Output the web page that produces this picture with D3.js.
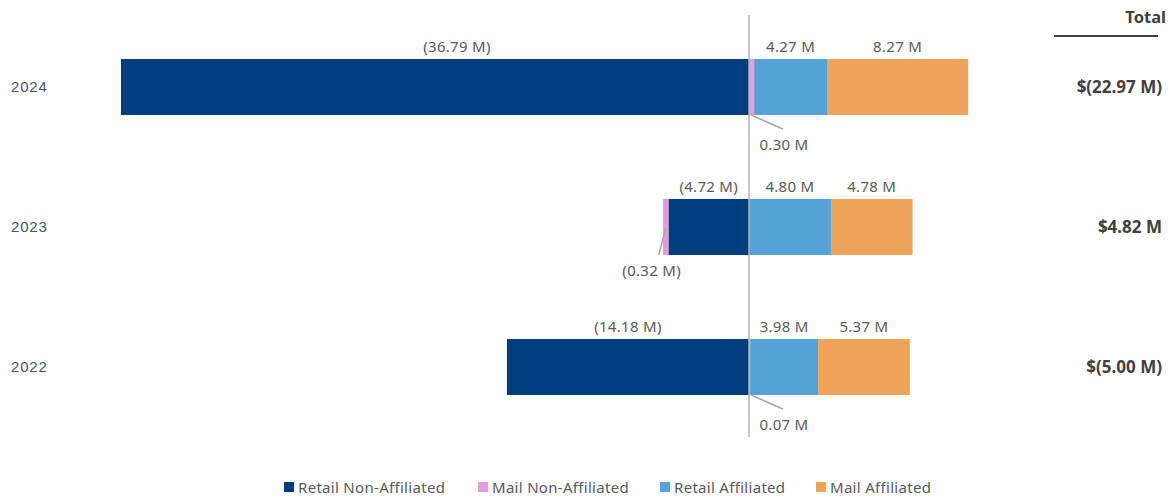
<!DOCTYPE html>
<html><head><meta charset="utf-8">
<script src="https://cdn.jsdelivr.net/npm/d3@7"></script>
<style>body{margin:0;background:#fff}svg{display:block}</style>
</head><body><svg id="c" width="1171" height="499"></svg>
<script>
const categories = ["2024","2023","2022"];
const seriesNames = ["Retail Non-Affiliated","Mail Non-Affiliated","Retail Affiliated","Mail Affiliated"];
const retailNonAffiliated = [-36.79, -4.72, -14.18];
const mailNonAffiliated = [0.30, -0.32, 0.07];
const retailAffiliated = [4.27, 4.80, 3.98];
const mailAffiliated = [8.27, 4.78, 5.37];
const totalLabels = ["$(22.97 M)", "$4.82 M", "$(5.00 M)"];
const colors = ["#003d7c","#e29ede","#56a2d7","#eba45a"];

const svg = d3.select("#c");
const x = d3.scaleLinear().domain([-40, 20]).range([749 - 40*17.07, 749 + 20*17.07]);
const y = d3.scaleBand().domain(categories).range([17, 437]).paddingInner(0.6).paddingOuter(0.3);
const seriesVals = [retailNonAffiliated, mailNonAffiliated, retailAffiliated, mailAffiliated];
const fmt = v => v < 0 ? "(" + Math.abs(v).toFixed(2) + " M)" : v.toFixed(2) + " M";
const labelFont = "'Noto Sans', 'Open Sans', sans-serif";

const segs = [];
categories.forEach((c, i) => {
  let pos = 0, neg = 0;
  seriesVals.forEach((arr, s) => {
    const v = arr[i];
    let x0, x1;
    if (v >= 0) { x0 = pos; x1 = pos + v; pos = x1; }
    else { x1 = neg; x0 = neg + v; neg = x0; }
    segs.push({c, i, s, v, x0, x1});
  });
});

svg.append("g").selectAll("rect").data(segs).join("rect")
  .attr("x", d => x(d.x0)).attr("width", d => x(d.x1) - x(d.x0))
  .attr("y", d => y(d.c)).attr("height", y.bandwidth())
  .attr("fill", d => colors[d.s]);

svg.append("line").attr("x1", x(0)).attr("x2", x(0)).attr("y1", 15).attr("y2", 437)
  .attr("stroke", "#b4b4b4").attr("stroke-width", 1.5);

const lab = svg.append("g").attr("font-family", labelFont).attr("font-size", 15)
  .attr("letter-spacing", 0.3).attr("fill", "#595959");
segs.forEach(d => {
  const w = x(d.x1) - x(d.x0);
  let cx = (x(d.x0) + x(d.x1)) / 2;
  if (w > 20) {
    if (w > 400) cx += 22; // long-bar label sits right of centre in the original
    lab.append("text").attr("x", cx).attr("y", y(d.c) - 7).attr("text-anchor", "middle").text(fmt(d.v));
  } else {
    const yb = y(d.c) + y.bandwidth();
    let lx0, ly0, lx1, ly1, tx, ty;
    if (d.v >= 0) {
      lx0 = x(d.x0) + 2; ly0 = yb; lx1 = x(d.x0) + 34; ly1 = yb + 14; tx = x(d.x0) + 35; ty = yb + 35;
    } else {
      lx0 = cx; ly0 = yb - 27; lx1 = cx - 7; ly1 = yb; tx = cx - 14; ty = yb + 21;
    }
    lab.append("line").attr("x1", lx0).attr("y1", ly0).attr("x2", lx1).attr("y2", ly1)
      .attr("stroke", "#a6a6a6").attr("stroke-width", 1.5);
    lab.append("text").attr("x", tx).attr("y", ty).attr("text-anchor", "middle").text(fmt(d.v));
  }
});

svg.append("g").selectAll("text").data(categories).join("text")
  .attr("x", 11).attr("y", d => y(d) + y.bandwidth()/2 + 5)
  .attr("font-family", "'Liberation Sans', Arial, sans-serif").attr("font-size", 15)
  .attr("letter-spacing", 0.8).attr("fill", "#44546a").text(d => d);

svg.append("text").attr("x", 1166).attr("y", 23).attr("text-anchor", "end")
  .attr("font-family", labelFont).attr("font-weight", "bold").attr("font-size", 16.5)
  .attr("fill", "#404040").text("Total");
svg.append("line").attr("x1", 1054).attr("x2", 1158).attr("y1", 36).attr("y2", 36)
  .attr("stroke", "#404040").attr("stroke-width", 2);
svg.append("g").selectAll("text").data(categories).join("text")
  .attr("x", 1162).attr("y", d => y(d) + y.bandwidth()/2 + 6).attr("text-anchor", "end")
  .attr("font-family", labelFont).attr("font-weight", "bold").attr("font-size", 17)
  .attr("fill", "#404040").text((d, i) => totalLabels[i]);

const legX = [284, 478, 660, 816];
const lg = svg.append("g").attr("font-family", labelFont).attr("font-size", 15)
  .attr("letter-spacing", 0.3).attr("fill", "#595959");
seriesNames.forEach((n, s) => {
  lg.append("rect").attr("x", legX[s]).attr("y", 482).attr("width", 10).attr("height", 10).attr("fill", colors[s]);
  lg.append("text").attr("x", legX[s] + 14).attr("y", 493).text(n);
});
</script></body></html>
